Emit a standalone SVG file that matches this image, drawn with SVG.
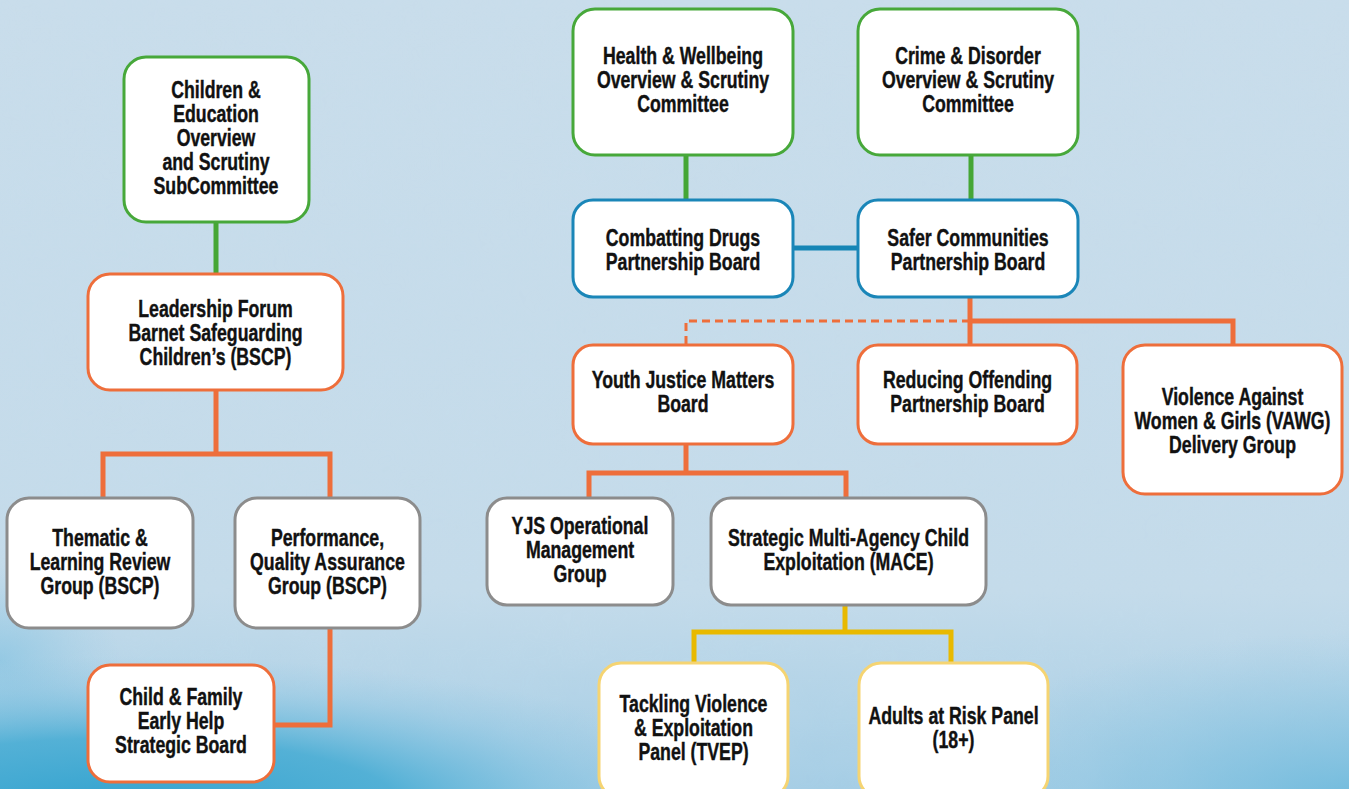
<svg xmlns="http://www.w3.org/2000/svg" width="1349" height="789" viewBox="0 0 1349 789">
<defs>
<linearGradient id="bgv" x1="0" y1="0" x2="0" y2="1">
<stop offset="0" stop-color="#c9ddeb"/>
<stop offset="0.75" stop-color="#c4dbea"/>
<stop offset="1" stop-color="#a4cde5"/>
</linearGradient>
<radialGradient id="bl" cx="120" cy="805" r="620" gradientUnits="userSpaceOnUse" gradientTransform="translate(120 805) scale(1 0.24) translate(-120 -805)">
<stop offset="0" stop-color="#33a3cf" stop-opacity="1"/>
<stop offset="0.45" stop-color="#44abd3" stop-opacity="0.85"/>
<stop offset="0.8" stop-color="#7cc0e0" stop-opacity="0.3"/>
<stop offset="1" stop-color="#8cc6e2" stop-opacity="0"/>
</radialGradient>
<radialGradient id="br" cx="1349" cy="800" r="420" gradientUnits="userSpaceOnUse" gradientTransform="translate(1349 800) scale(1 0.4) translate(-1349 -800)">
<stop offset="0" stop-color="#6bb9dc" stop-opacity="0.9"/>
<stop offset="1" stop-color="#8cc6e2" stop-opacity="0"/>
</radialGradient>
<radialGradient id="lft" cx="0" cy="660" r="120" gradientUnits="userSpaceOnUse" gradientTransform="translate(0 660) scale(1 0.8) translate(0 -660)">
<stop offset="0" stop-color="#7cc0e0" stop-opacity="0.6"/>
<stop offset="1" stop-color="#8cc6e2" stop-opacity="0"/>
</radialGradient>
<filter id="noise" x="0" y="0" width="100%" height="100%">
<feTurbulence type="fractalNoise" baseFrequency="0.02" numOctaves="3" seed="4"/>
<feColorMatrix type="matrix" values="0 0 0 0 0.55  0 0 0 0 0.72  0 0 0 0 0.85  0 0 0 0.35 -0.05"/>
</filter>
</defs>
<style>
.box{fill:#ffffff;stroke-width:3}
.g{stroke:#47a83a}
.o{stroke:#ee6e3b}
.gr{stroke:#8c8c8c}
.b{stroke:#1a86b8}
.y{stroke:#f5d472}
.c{fill:none;stroke-width:5;stroke-linecap:butt;stroke-linejoin:miter}
.cg{stroke:#45a635}
.co{stroke:#ee6e3b}
.cb{stroke:#1585b5}
.cy{stroke:#e8b900}
.dash{fill:none;stroke:#ee6e3b;stroke-width:3;stroke-dasharray:8 5}
text{font-family:"Liberation Sans",Arial,sans-serif;font-weight:bold;font-size:23px;fill:#111111;stroke:#111111;stroke-width:0.4;text-anchor:middle}
</style>
<rect x="0" y="0" width="1349" height="789" fill="url(#bgv)"/>
<rect x="0" y="0" width="1349" height="789" filter="url(#noise)" opacity="0.5"/>
<rect x="0" y="0" width="1349" height="789" fill="url(#lft)"/>
<rect x="0" y="0" width="1349" height="789" fill="url(#br)"/>
<rect x="0" y="0" width="1349" height="789" fill="url(#bl)"/>

<g id="connectors">
<path class="c cg" d="M216 222V274"/>
<path class="c cg" d="M686 155V200"/>
<path class="c cg" d="M971 155V200"/>
<path class="c cb" d="M793 248H858"/>
<path class="c co" d="M216 390V454"/>
<path class="c co" d="M103 498V454H330V498"/>
<path class="c co" d="M330 628V725H274"/>
<path class="c co" d="M970 297V345"/>
<path class="c co" d="M970 321H1233V345"/>
<path class="dash" d="M970 321H686V345"/>
<path class="c co" d="M686 444V473"/>
<path class="c co" d="M589 498V473H846V498"/>
<path class="c cy" d="M845 605V632"/>
<path class="c cy" d="M694 663V632H951V663"/>
</g>

<g id="children-education">
<rect class="box g" x="124" y="57" width="185" height="165" rx="22"/>
<g transform="matrix(0.77 0 0 1 49.68 0)">
<text x="216" y="98">Children &amp;</text>
<text x="216" y="122">Education</text>
<text x="216" y="146">Overview</text>
<text x="216" y="170">and Scrutiny</text>
<text x="216" y="194">SubCommittee</text>
</g>
</g>
<g id="leadership-forum">
<rect class="box o" x="88" y="274" width="255" height="116" rx="22"/>
<g transform="matrix(0.77 0 0 1 49.565 0)">
<text x="215.5" y="317">Leadership Forum</text>
<text x="215.5" y="341">Barnet Safeguarding</text>
<text x="215.5" y="365">Children’s (BSCP)</text>
</g>
</g>
<g id="thematic-learning">
<rect class="box gr" x="7" y="498" width="186" height="130" rx="22"/>
<g transform="matrix(0.77 0 0 1 23 0)">
<text x="100" y="546">Thematic &amp;</text>
<text x="100" y="570">Learning Review</text>
<text x="100" y="594">Group (BSCP)</text>
</g>
</g>
<g id="performance-qa">
<rect class="box gr" x="235" y="498" width="185" height="130" rx="22"/>
<g transform="matrix(0.77 0 0 1 75.325 0)">
<text x="327.5" y="546">Performance,</text>
<text x="327.5" y="570">Quality Assurance</text>
<text x="327.5" y="594">Group (BSCP)</text>
</g>
</g>
<g id="child-family">
<rect class="box o" x="88" y="665" width="186" height="117" rx="22"/>
<g transform="matrix(0.77 0 0 1 41.63 0)">
<text x="181" y="705">Child &amp; Family</text>
<text x="181" y="729">Early Help</text>
<text x="181" y="753">Strategic Board</text>
</g>
</g>
<g id="health-wellbeing">
<rect class="box g" x="573" y="9" width="220" height="146" rx="22"/>
<g transform="matrix(0.77 0 0 1 157.09 0)">
<text x="683" y="64">Health &amp; Wellbeing</text>
<text x="683" y="88">Overview &amp; Scrutiny</text>
<text x="683" y="112">Committee</text>
</g>
</g>
<g id="crime-disorder">
<rect class="box g" x="858" y="9" width="220" height="146" rx="22"/>
<g transform="matrix(0.77 0 0 1 222.64 0)">
<text x="968" y="64">Crime &amp; Disorder</text>
<text x="968" y="88">Overview &amp; Scrutiny</text>
<text x="968" y="112">Committee</text>
</g>
</g>
<g id="combatting-drugs">
<rect class="box b" x="573" y="200" width="220" height="97" rx="20"/>
<g transform="matrix(0.77 0 0 1 157.09 0)">
<text x="683" y="246">Combatting Drugs</text>
<text x="683" y="270">Partnership Board</text>
</g>
</g>
<g id="safer-communities">
<rect class="box b" x="858" y="200" width="220" height="97" rx="20"/>
<g transform="matrix(0.77 0 0 1 222.64 0)">
<text x="968" y="246">Safer Communities</text>
<text x="968" y="270">Partnership Board</text>
</g>
</g>
<g id="youth-justice">
<rect class="box o" x="573" y="345" width="220" height="99" rx="20"/>
<g transform="matrix(0.77 0 0 1 157.09 0)">
<text x="683" y="388">Youth Justice Matters</text>
<text x="683" y="412">Board</text>
</g>
</g>
<g id="reducing-offending">
<rect class="box o" x="858" y="345" width="219" height="99" rx="20"/>
<g transform="matrix(0.77 0 0 1 222.525 0)">
<text x="967.5" y="388">Reducing Offending</text>
<text x="967.5" y="412">Partnership Board</text>
</g>
</g>
<g id="vawg">
<rect class="box o" x="1123" y="345" width="219" height="149" rx="22"/>
<g transform="matrix(0.77 0 0 1 283.475 0)">
<text x="1232.5" y="405">Violence Against</text>
<text x="1232.5" y="429">Women &amp; Girls (VAWG)</text>
<text x="1232.5" y="453">Delivery Group</text>
</g>
</g>
<g id="yjs-operational">
<rect class="box gr" x="487" y="498" width="186" height="107" rx="20"/>
<g transform="matrix(0.77 0 0 1 133.4 0)">
<text x="580" y="534">YJS Operational</text>
<text x="580" y="558">Management</text>
<text x="580" y="582">Group</text>
</g>
</g>
<g id="strategic-mace">
<rect class="box gr" x="711" y="498" width="275" height="107" rx="20"/>
<g transform="matrix(0.77 0 0 1 195.155 0)">
<text x="848.5" y="546">Strategic Multi-Agency Child</text>
<text x="848.5" y="570">Exploitation (MACE)</text>
</g>
</g>
<g id="tvep">
<rect class="box y" x="599" y="663" width="189" height="135" rx="22"/>
<g transform="matrix(0.77 0 0 1 159.505 0)">
<text x="693.5" y="712">Tackling Violence</text>
<text x="693.5" y="736">&amp; Exploitation</text>
<text x="693.5" y="760">Panel (TVEP)</text>
</g>
</g>
<g id="adults-at-risk">
<rect class="box y" x="859" y="663" width="189" height="135" rx="22"/>
<g transform="matrix(0.77 0 0 1 219.305 0)">
<text x="953.5" y="724">Adults at Risk Panel</text>
<text x="953.5" y="748">(18+)</text>
</g>
</g>
</svg>
